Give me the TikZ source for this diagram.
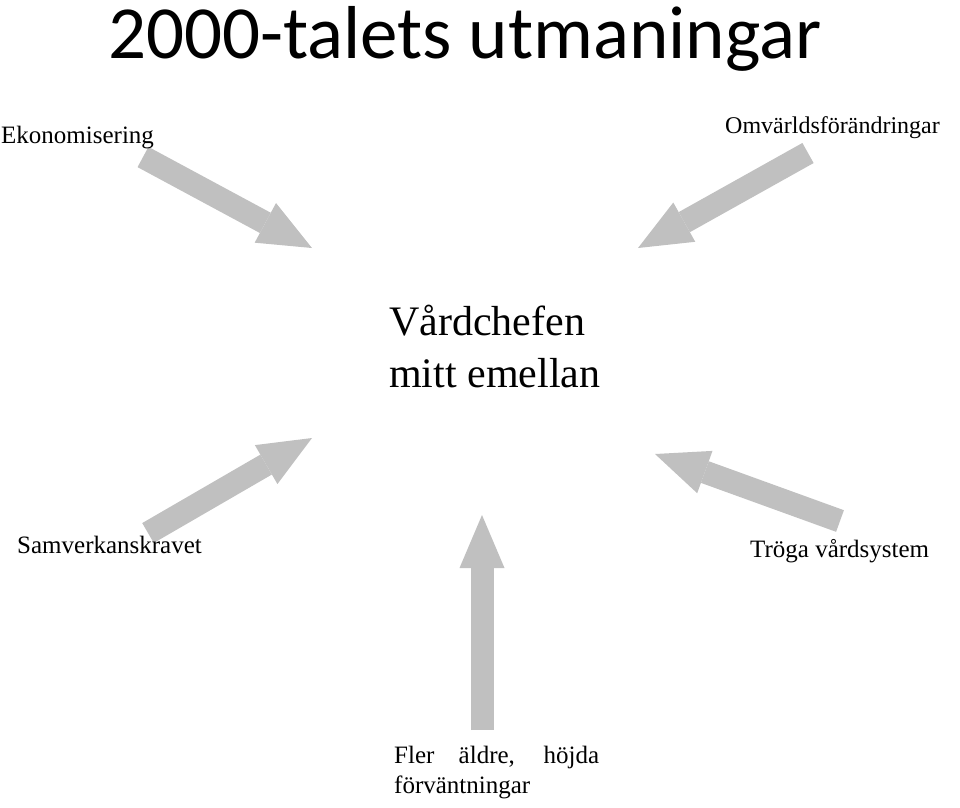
\documentclass[tikz,border=0pt]{standalone}
\usepackage{fontspec}
\setmainfont{Liberation Serif}
\newfontfamily\rubrikfont{Carlito}
\usetikzlibrary{arrows.meta}
\definecolor{pilgra}{RGB}{192,192,192}
\begin{document}
\begin{tikzpicture}[x=1pt, y=-1pt,
                  pil/.style={line width=23pt, draw=pilgra,
                              -{Triangle[length=53pt, width=45pt, line width=0pt]}},
                  etikett/.style={anchor=base west, inner sep=0pt,
                                  font=\fontsize{25}{30}\selectfont},
                  mitten/.style={anchor=base west, inner sep=0pt,
                                 font=\fontsize{42}{52}\selectfont}]
\useasboundingbox (0,0) rectangle (960,807);
\foreach \i/\sx/\sy/\mx/\my in {1/143/157/312/248, 2/808/153/638/248,
                                3/148/533/312/438, 4/840/521/655/454,
                                5/482/730/482/515}
  {\coordinate (s\i) at (\sx,\sy);
   \coordinate (m\i) at (\mx,\my);
   \draw[pil] (s\i) -- (m\i);};
\node[anchor=base west, inner sep=0pt,
      font=\rubrikfont\fontsize{75}{80}\selectfont] (rubrik) at (108,58) {2000-talets utmaningar};
\node[mitten] (chef1) at (389,335) {Vårdchefen};
\node[mitten] (chef2) at (389,387) {mitt emellan};
\node[etikett] (eko) at (1,143) {Ekonomisering};
\node[etikett, font=\fontsize{24}{30}\selectfont] (omv) at (725,133) {Omvärldsförändringar};
\node[etikett] (sam) at (17,553) {Samverkanskravet};
\node[etikett] (tro) at (750,557) {Tröga vårdsystem};
\node[etikett] (fler1) at (394,763) {\makebox[205pt][s]{Fler äldre, höjda}};
\node[etikett] (fler2) at (394,793) {förväntningar};
\end{tikzpicture}
\end{document}
